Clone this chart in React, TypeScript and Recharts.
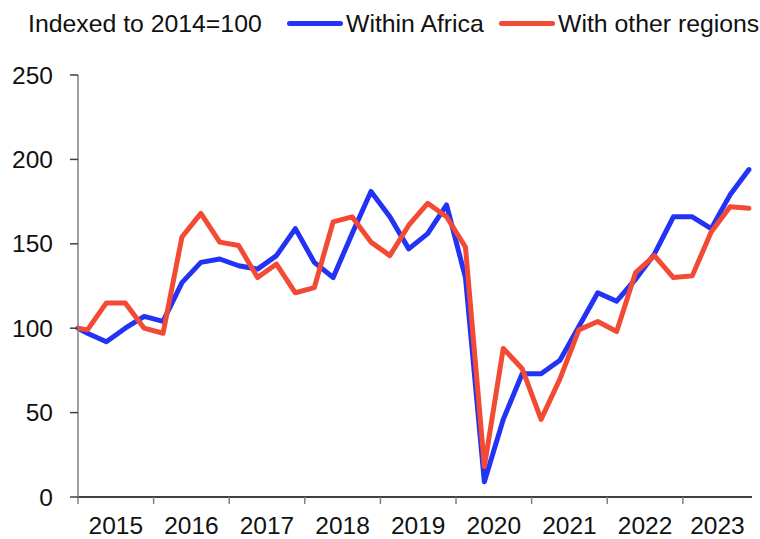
import React from 'react';
import { LineChart, Line, XAxis, YAxis } from 'recharts';

const FONT = '"Liberation Sans", Arial, Helvetica, sans-serif';
const BLUE = '#2233F5';
const RED = '#F24A34';

// first point is the 2014 base, then one value per quarter 2015Q1..2023Q4
const years = [2015, 2016, 2017, 2018, 2019, 2020, 2021, 2022, 2023];
const withinAfrica = [
    100,
    97, 92, 100, 107,
    104, 127, 139, 141,
    137, 135, 143, 159,
    139, 130, 156, 181,
    166, 147, 156, 173,
    130, 9, 46, 73,
    73, 81, 101, 121,
    116, 129, 144, 166,
    166, 159, 179, 194,
];
const otherRegions = [
    100,
    99, 115, 115, 100,
    97, 154, 168, 151,
    149, 130, 138, 121,
    124, 163, 166, 151,
    143, 161, 174, 166,
    148, 18, 88, 76,
    46, 70, 99, 104,
    98, 133, 143, 130,
    131, 157, 172, 171,
];
const yTicks = [0, 50, 100, 150, 200, 250];

const periods = ['2014'].concat(
    ...years.map((y) => ['Q1', 'Q2', 'Q3', 'Q4'].map((q) => `${y} ${q}`))
);

// base sits on the axis, quarters sit in the middle of their slot
const data = periods.map((p, i) => ({
    period: p,
    x: i === 0 ? 0 : i - 0.5,
    within: withinAfrica[i],
    other: otherRegions[i],
}));

const W = 760;
const H = 539;
const LEFT = 78;
const RIGHT = 8;
const X_MAX = 35.66;
const PX_PER_Q = (W - LEFT - RIGHT) / X_MAX;
const xTicks = years.map((_, i) => i * 4);

const YearTick = (props: any) => {
    const { x, y, payload } = props;
    const start = payload.value as number;
    const span = Math.min(4, X_MAX - start);
    return (
        <text
            x={x + (span / 2) * PX_PER_Q}
            y={y}
            dy="0.71em"
            textAnchor="middle"
            fill="#111"
            fontSize={24.5}
            fontFamily={FONT}
        >
            {years[start / 4]}
        </text>
    );
};

const LegendKey = ({ color, left }: { color: string; left: number }) => (
    <span
        style={{
            position: 'absolute',
            left,
            top: 21,
            width: 56,
            height: 5,
            borderRadius: 3,
            background: color,
        }}
    />
);

const LegendText = ({ text, left }: { text: string; left: number }) => (
    <span
        style={{
            position: 'absolute',
            left,
            top: 10,
            fontSize: 24.8,
            lineHeight: '28px',
            color: '#111',
            whiteSpace: 'nowrap',
        }}
    >
        {text}
    </span>
);

const App: React.FC = () => {
    return (
        <div
            style={{
                position: 'absolute',
                left: 0,
                top: 0,
                width: W,
                height: H,
                overflow: 'hidden',
                background: '#fff',
                fontFamily: FONT,
            }}
        >
            <LegendText text="Indexed to 2014=100" left={28} />
            <LegendKey color={BLUE} left={287} />
            <LegendText text="Within Africa" left={346} />
            <LegendKey color={RED} left={499} />
            <LegendText text="With other regions" left={558} />
            <LineChart
                width={W}
                height={H}
                data={data}
                margin={{ top: 75, right: RIGHT, bottom: 0, left: 0 }}
            >
                <XAxis
                    dataKey="x"
                    type="number"
                    domain={[0, X_MAX]}
                    ticks={xTicks}
                    interval={0}
                    height={42}
                    tickSize={7}
                    tickMargin={13}
                    axisLine={{ stroke: '#000', strokeWidth: 1.5 }}
                    tickLine={{ stroke: '#808080', strokeWidth: 1.5 }}
                    tick={<YearTick />}
                />
                <YAxis
                    domain={[0, 250]}
                    ticks={yTicks}
                    interval={0}
                    width={LEFT}
                    tickSize={8}
                    tickMargin={17}
                    axisLine={{ stroke: '#808080', strokeWidth: 1.5 }}
                    tickLine={{ stroke: '#404040', strokeWidth: 1.5 }}
                    tick={{ fill: '#111', fontSize: 24.5, fontFamily: FONT }}
                />
                <Line
                    type="linear"
                    dataKey="within"
                    stroke={BLUE}
                    strokeWidth={5}
                    strokeLinejoin="round"
                    strokeLinecap="round"
                    dot={false}
                    isAnimationActive={false}
                />
                <Line
                    type="linear"
                    dataKey="other"
                    stroke={RED}
                    strokeWidth={5}
                    strokeLinejoin="round"
                    strokeLinecap="round"
                    dot={false}
                    isAnimationActive={false}
                />
            </LineChart>
        </div>
    );
};

export default App;
